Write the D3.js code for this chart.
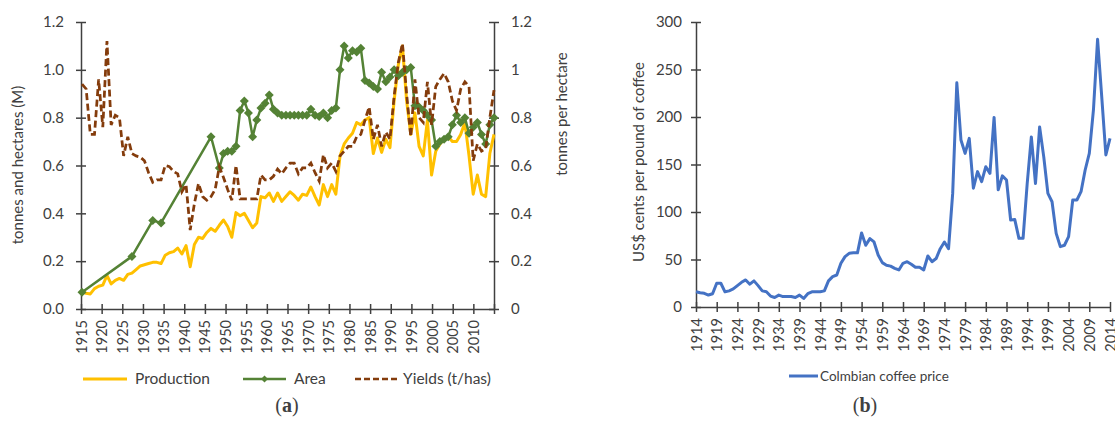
<!DOCTYPE html>
<meta charset="utf-8">
<style>
    body { margin: 0; background: #fff; }
    text { font-family: Lato, "Open Sans", sans-serif; fill: #404040; }
    .axis path, .axis line { stroke: #404040; stroke-width: 1.5px; }
</style>

<body>
    <script src="https://d3js.org/d3.v7.min.js"></script>
    <script>
        // ---- chart (a): production, area, yields ----
        var years = d3.range(1915, 2015);

        var production = [
            0.072, 0.066, 0.063, 0.085, 0.095, 0.10, 0.14, 0.105, 0.12, 0.128,
            0.12, 0.145, 0.15, 0.165, 0.18, 0.185, 0.19, 0.195, 0.195, 0.19,
            0.225, 0.235, 0.24, 0.255, 0.23, 0.265, 0.177, 0.27, 0.30, 0.295,
            0.32, 0.337, 0.325, 0.35, 0.372, 0.345, 0.30, 0.403, 0.39, 0.40,
            0.37, 0.34, 0.36, 0.47, 0.465, 0.485, 0.45, 0.485, 0.45, 0.47,
            0.49, 0.475, 0.455, 0.48, 0.475, 0.51, 0.47, 0.435, 0.52, 0.47,
            0.52, 0.48, 0.64, 0.69, 0.715, 0.735, 0.78, 0.77, 0.79, 0.80,
            0.65, 0.715, 0.655, 0.71, 0.675, 0.87, 1.02, 1.10, 0.87, 0.73,
            0.82, 0.68, 0.64, 0.79, 0.56, 0.66, 0.69, 0.71, 0.72, 0.70,
            0.70, 0.73, 0.78, 0.64, 0.48, 0.56, 0.48, 0.47, 0.65, 0.73
        ];

        var yields = [
            0.94, 0.92, 0.73, 0.73, 0.96, 0.76, 1.12, 0.77, 0.81, 0.80,
            0.64, 0.72, 0.65, 0.64, 0.635, 0.62, 0.57, 0.53, 0.54, 0.54,
            0.60, 0.595, 0.575, 0.565, 0.49, 0.52, 0.33, 0.44, 0.525, 0.47,
            0.455, 0.47, 0.50, 0.595, 0.55, 0.50, 0.455, 0.60, 0.46, 0.46,
            0.46, 0.46, 0.46, 0.56, 0.54, 0.54, 0.555, 0.585, 0.565, 0.59,
            0.61, 0.61, 0.565, 0.59, 0.59, 0.61, 0.57, 0.535, 0.645, 0.59,
            0.61, 0.575, 0.64, 0.66, 0.68, 0.68, 0.72, 0.73, 0.79, 0.845,
            0.71, 0.77, 0.68, 0.74, 0.71, 0.89, 1.03, 1.11, 0.90, 0.72,
            0.96, 0.80, 0.78, 0.95, 0.77, 0.93, 0.96, 0.985, 0.95, 0.87,
            0.83, 0.92, 0.95, 0.93, 0.62, 0.69, 0.66, 0.67, 0.80, 0.915
        ];

        var areaYears = [1915, 1927, 1932, 1934, 1946].concat(d3.range(1948, 2015));
        var area = [
            0.07, 0.22, 0.37, 0.36, 0.72,
            0.59, 0.65, 0.66, 0.66, 0.68, 0.83, 0.87, 0.82, 0.72, 0.79,
            0.84, 0.86, 0.895, 0.835, 0.82, 0.81, 0.81, 0.81, 0.81, 0.81,
            0.81, 0.81, 0.835, 0.81, 0.805, 0.82, 0.80, 0.83, 0.84, 1.00,
            1.10, 1.05, 1.08, 1.075, 1.09, 0.955, 0.945, 0.93, 0.92, 0.99,
            0.95, 0.97, 1.00, 0.975, 0.99, 1.00, 1.01, 0.85, 0.845, 0.83,
            0.81, 0.79, 0.68, 0.70, 0.71, 0.72, 0.77, 0.81, 0.78, 0.80,
            0.735, 0.76, 0.78, 0.73, 0.69, 0.77, 0.80
        ];

        var yTicksA = [0, 0.2, 0.4, 0.6, 0.8, 1.0, 1.2];
        var xTicksA = d3.range(1915, 2016, 5);

        // ---- chart (b): coffee price ----
        var priceYears = d3.range(1914, 2015);
        var price = [
            16, 15, 14.4, 12.6, 14, 25, 25, 16, 17, 19,
            22.5, 26, 28.5, 24, 27.5, 22.5, 17, 16, 11.5, 10,
            12.5, 11, 11, 11, 10, 12.5, 9, 14, 16, 16,
            16, 17, 27.5, 32, 33.7, 46, 53, 56.5, 57, 57,
            78, 65, 72, 68.5, 54.7, 46.7, 44, 43, 40.7, 39,
            46, 47.7, 45, 41.8, 41.8, 39, 53.7, 47.7, 51, 61.4,
            68.4, 61.4, 119.6, 236, 175.8, 161.7, 177.5, 125, 142.5, 132,
            147.7, 140.7, 199.6, 123.3, 138, 133.7, 91.6, 92, 72.3, 72.3,
            130, 179, 130, 189.5, 158, 119.6, 110.8, 77.5, 63.5, 65,
            74, 112.6, 112.6, 121.4, 144.2, 161.7, 207.4, 281.8, 221.4, 160,
            177.5
        ];
        var yTicksB = [0, 50, 100, 150, 200, 250, 300];
        var xTicksB = d3.range(1914, 2015, 5);

        var svg = d3.select("body").append("svg")
            .attr("width", 1115)
            .attr("height", 434);

        // cross style tick marks, like the spreadsheet charts
        function crossY(g) {
            g.selectAll(".tick line").attr("x1", -5).attr("x2", 5);
        }
        function crossX(g) {
            g.selectAll(".tick line").attr("y1", -5).attr("y2", 5);
        }

        // ================= (a) =================
        var xA = d3.scaleLinear().domain([1915, 2014]).range([82, 494]);
        var xTickA = d3.scaleLinear().domain([1915, 2015]).range([81, 494]);
        var yA = d3.scaleLinear().domain([0, 1.2]).range([309, 22]);

        var gA = svg.append("g");

        gA.append("g").attr("class", "axis")
            .attr("transform", "translate(81,0)")
            .call(d3.axisLeft(yA).tickValues(yTicksA).tickFormat(d3.format(".1f")).tickSizeOuter(0))
            .call(crossY)
            .call(g => g.selectAll("text").attr("x", -17).style("font-size", "15px"));

        gA.append("g").attr("class", "axis")
            .attr("transform", "translate(494,0)")
            .call(d3.axisRight(yA).tickValues(yTicksA).tickFormat(d3.format("~g")).tickSizeOuter(0))
            .call(crossY)
            .call(g => g.selectAll("text").attr("x", 17).style("font-size", "15px"));

        gA.append("g").attr("class", "axis")
            .attr("transform", "translate(0,309)")
            .call(d3.axisBottom(xTickA).tickValues(xTicksA).tickFormat(d => d < 2015 ? d : "").tickSizeOuter(0))
            .call(crossX)
            .call(g => g.selectAll("text")
                .attr("transform", "rotate(-90)")
                .attr("text-anchor", "end")
                .attr("x", -11).attr("y", 0).attr("dy", "0.35em")
                .style("font-size", "14.5px"));

        gA.selectAll(".axis text").attr("fill", "#333");

        var lineA = d3.line().x((d, i) => xA(years[i])).y(d => yA(d));
        var lineArea = d3.line().x((d, i) => xA(areaYears[i])).y(d => yA(d));

        gA.append("path")
            .attr("d", lineA(production))
            .attr("fill", "none")
            .attr("stroke", "#FFC000")
            .attr("stroke-width", 3)
            .attr("stroke-linejoin", "round");

        gA.append("path")
            .attr("d", lineArea(area))
            .attr("fill", "none")
            .attr("stroke", "#548235")
            .attr("stroke-width", 2.5)
            .attr("stroke-linejoin", "round");

        var diamond = "M0,-4.5L4.5,0L0,4.5L-4.5,0Z";
        gA.selectAll(".mk")
            .data(area)
            .enter().append("path")
            .attr("class", "mk")
            .attr("d", diamond)
            .attr("transform", (d, i) => "translate(" + xA(areaYears[i]) + "," + yA(d) + ")")
            .attr("fill", "#548235");

        gA.append("path")
            .attr("d", lineA(yields))
            .attr("fill", "none")
            .attr("stroke", "#843C0C")
            .attr("stroke-width", 2.75)
            .attr("stroke-dasharray", "7,3.5");

        gA.append("text")
            .attr("transform", "translate(18,165) rotate(-90)")
            .attr("text-anchor", "middle")
            .attr("dy", "0.35em")
            .style("font-size", "15px")
            .text("tonnes and hectares (M)");

        gA.append("text")
            .attr("transform", "translate(562,114) rotate(-90)")
            .attr("text-anchor", "middle")
            .attr("dy", "0.35em")
            .style("font-size", "15px")
            .text("tonnes per hectare");

        // legend (a)
        var legA = gA.append("g").attr("transform", "translate(0,379)");
        legA.append("line").attr("x1", 83).attr("x2", 127)
            .attr("stroke", "#FFC000").attr("stroke-width", 3);
        legA.append("text").attr("x", 135).attr("dy", "0.35em").style("font-size", "15.5px").text("Production");
        legA.append("line").attr("x1", 243).attr("x2", 286)
            .attr("stroke", "#548235").attr("stroke-width", 2.5);
        legA.append("path").attr("d", "M0,-3.5L3.5,0L0,3.5L-3.5,0Z")
            .attr("transform", "translate(264.5,0)").attr("fill", "#548235");
        legA.append("text").attr("x", 294).attr("dy", "0.35em").style("font-size", "15.5px").text("Area");
        legA.append("line").attr("x1", 355).attr("x2", 399)
            .attr("stroke", "#843C0C").attr("stroke-width", 2.5).attr("stroke-dasharray", "6,3");
        legA.append("text").attr("x", 403).attr("dy", "0.35em").style("font-size", "15.5px").text("Yields (t/has)");

        // ================= (b) =================
        var xB = d3.scaleLinear().domain([1914, 2014]).range([696, 1110]);
        var yB = d3.scaleLinear().domain([0, 300]).range([307, 22]);

        var gB = svg.append("g");

        gB.append("g").attr("class", "axis")
            .attr("transform", "translate(696,0)")
            .call(d3.axisLeft(yB).tickValues(yTicksB).tickSizeOuter(0))
            .call(crossY)
            .call(g => g.selectAll("text").attr("x", -14).style("font-size", "15px"));

        gB.append("g").attr("class", "axis")
            .attr("transform", "translate(0,307)")
            .call(d3.axisBottom(xB).tickValues(xTicksB).tickFormat(d3.format("d")).tickSizeOuter(0))
            .call(crossX)
            .call(g => g.selectAll("text")
                .attr("transform", "rotate(-90)")
                .attr("text-anchor", "end")
                .attr("x", -11).attr("y", 0).attr("dy", "0.35em")
                .style("font-size", "14.5px"));

        gB.selectAll(".axis text").attr("fill", "#333");

        var lineB = d3.line().x((d, i) => xB(priceYears[i])).y(d => yB(d));
        gB.append("path")
            .attr("d", lineB(price))
            .attr("fill", "none")
            .attr("stroke", "#4472C4")
            .attr("stroke-width", 3)
            .attr("stroke-linejoin", "round");

        gB.append("text")
            .attr("transform", "translate(639,162) rotate(-90)")
            .attr("text-anchor", "middle")
            .attr("dy", "0.35em")
            .style("font-size", "15px")
            .text("US$ cents per pound of coffee");

        var legB = gB.append("g").attr("transform", "translate(0,376)");
        legB.append("line").attr("x1", 789).attr("x2", 818)
            .attr("stroke", "#4472C4").attr("stroke-width", 3);
        legB.append("text").attr("x", 820).attr("dy", "0.35em").style("font-size", "13.5px").text("Colmbian coffee price");

        // captions
        function caption(x, letter) {
            var t = svg.append("text")
                .attr("x", x).attr("y", 412)
                .attr("text-anchor", "middle")
                .style("font-family", "'Liberation Serif', 'DejaVu Serif', serif")
                .style("font-size", "20px")
                .attr("fill", "#000");
            t.append("tspan").text("(");
            t.append("tspan").style("font-weight", "bold").text(letter);
            t.append("tspan").text(")");
        }
        caption(287, "a");
        caption(865, "b");
    </script>
</body>
